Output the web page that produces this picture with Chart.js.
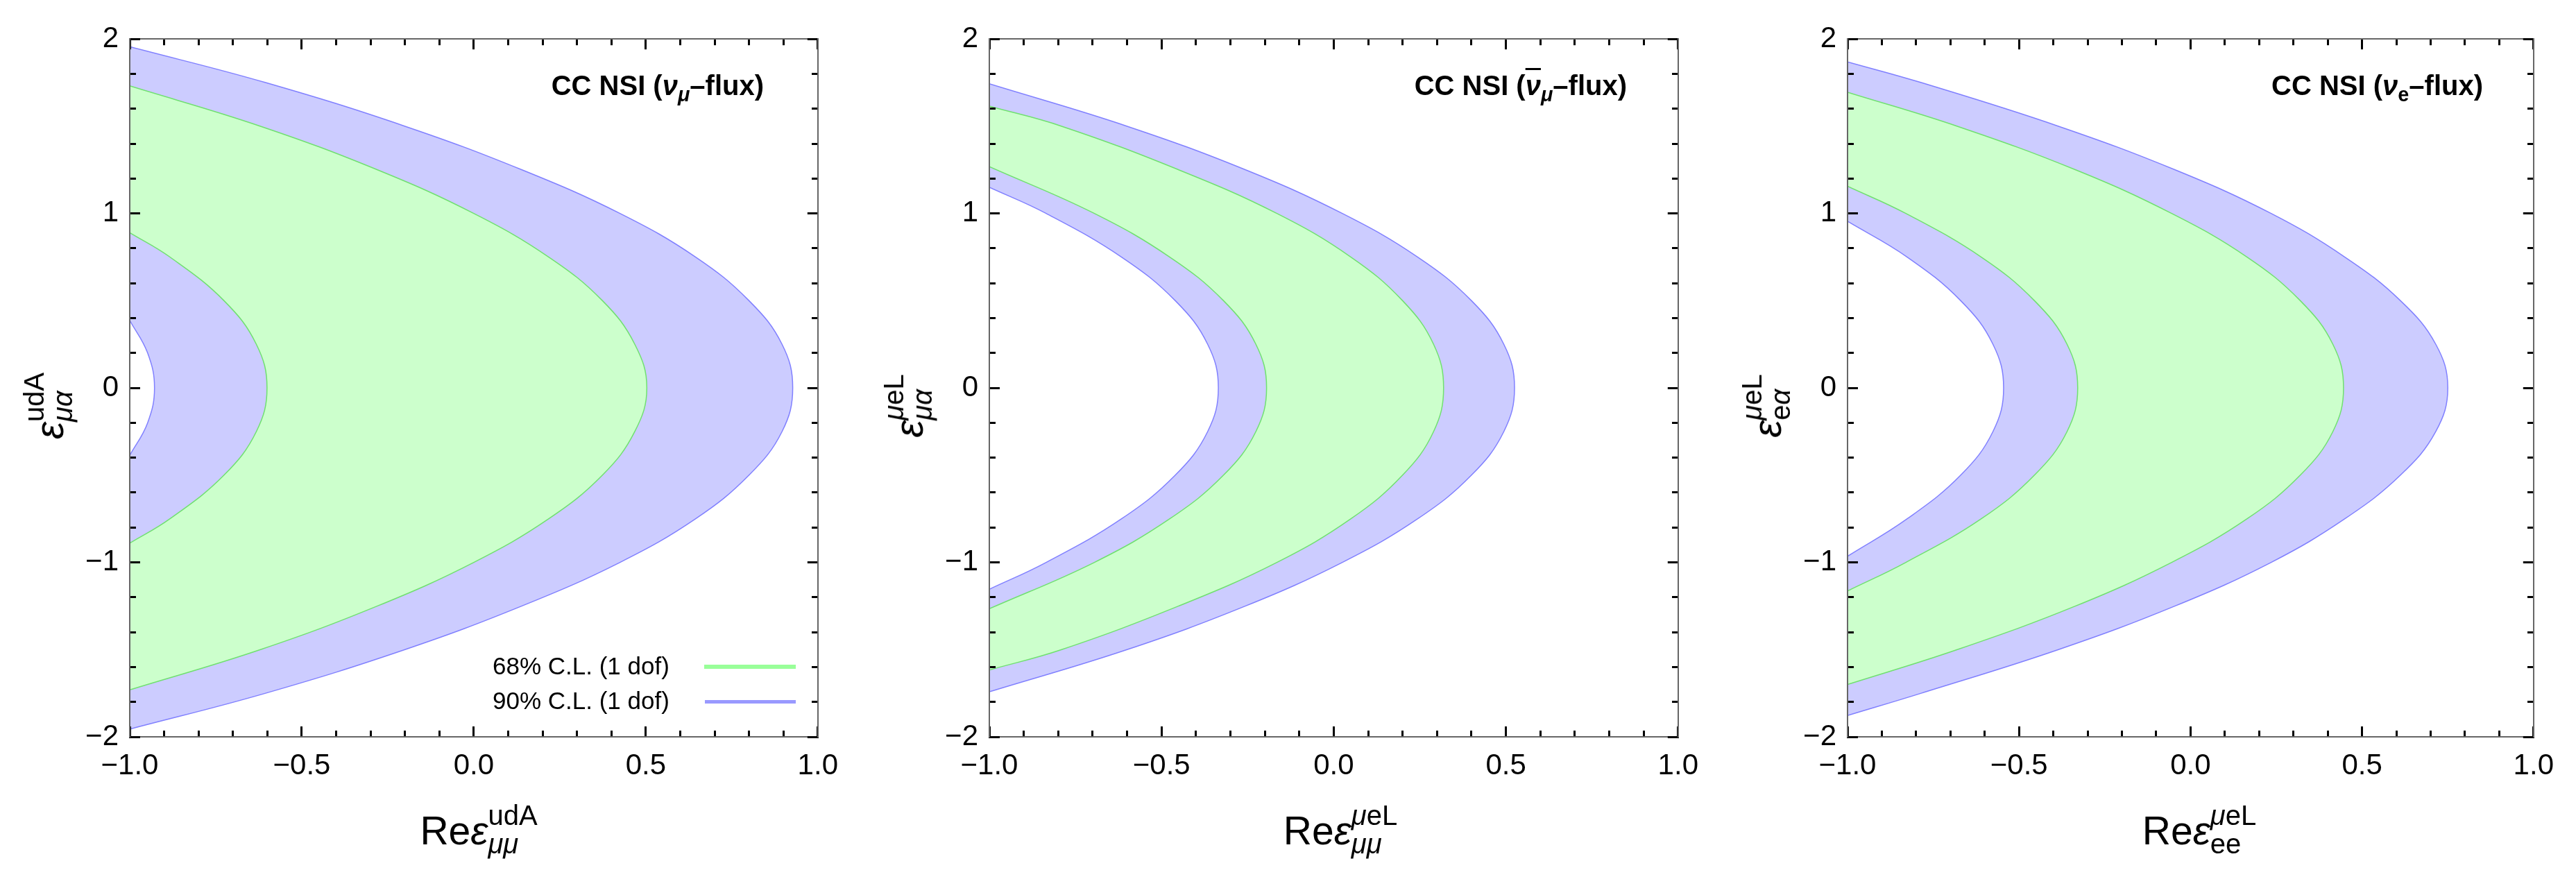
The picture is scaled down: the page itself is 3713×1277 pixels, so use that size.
<!DOCTYPE html>
<html>
<head>
<meta charset="utf-8">
<script src="https://cdn.jsdelivr.net/npm/chart.js@4.4.1/dist/chart.umd.min.js"></script>
<style>
  html, body { margin: 0; padding: 0; background: #fff; }
  body { width: 3713px; height: 1277px; position: relative; overflow: hidden;
         font-family: "Liberation Sans", Arial, sans-serif; color: #000; }
  .panel { position: absolute; top: 0; height: 1277px; }
  .note { position: absolute; top: 103px; font-weight: bold; font-size: 40px; line-height: 40px; white-space: nowrap; }
  .note sub { font-size: 0.72em; vertical-align: -0.32em; line-height: 0; }
  .bar { text-decoration: overline; text-decoration-thickness: 3px; }
  .xt, .yt { position: absolute; font-size: 57px; line-height: 57px; white-space: nowrap; }
  .xt { transform: translateX(-50%); }
  .yt { transform: translate(-50%, -50%) rotate(-90deg); }
  .ss { display: inline-block; font-size: 40px; line-height: 41px; vertical-align: -13px; text-align: left; }
  .ss span { display: block; }
  .leg { position: absolute; font-size: 35px; line-height: 35px; white-space: nowrap; }
  .legline { position: absolute; }
</style>
</head>
<body>

<div class="panel" style="left:0px;width:1240px"><canvas id="c1" width="1240" height="1277"></canvas></div>
<div class="panel" style="left:1240px;width:1240px"><canvas id="c2" width="1240" height="1277"></canvas></div>
<div class="panel" style="left:2475px;width:1238px"><canvas id="c3" width="1238" height="1277"></canvas></div>

<!-- panel notes -->
<div class="note" style="right:2612px">CC NSI (<i>ν</i><sub><i>μ</i></sub>–flux)</div>
<div class="note" style="right:1368px">CC NSI (<i class="bar">ν</i><sub><i>μ</i></sub>–flux)</div>
<div class="note" style="right:134px">CC NSI (<i>ν</i><sub>e</sub>–flux)</div>

<!-- legend, first panel -->
<div class="leg" style="left:710px;top:942px">68% C.L. (1 dof)</div>
<div class="leg" style="left:710px;top:992px">90% C.L. (1 dof)</div>
<div class="legline" style="left:1015px;top:958px;width:132px;height:6px;background:#99ff99"></div>
<div class="legline" style="left:1016px;top:1009px;width:131px;height:5px;background:#9999ff"></div>

<!-- axis titles -->
<div class="xt" style="left:690px;top:1155px">Re<i>ε</i><span class="ss"><span>udA</span><span><i>μμ</i></span></span></div>
<div class="xt" style="left:1932px;top:1155px">Re<i>ε</i><span class="ss"><span><i>μ</i>eL</span><span><i>μμ</i></span></span></div>
<div class="xt" style="left:3170px;top:1155px">Re<i>ε</i><span class="ss"><span><i>μ</i>eL</span><span>ee</span></span></div>

<div class="yt" style="left:70px;top:585px"><i>ε</i><span class="ss"><span>udA</span><span><i>μα</i></span></span></div>
<div class="yt" style="left:1309px;top:585px"><i>ε</i><span class="ss"><span><i>μ</i>eL</span><span><i>μα</i></span></span></div>
<div class="yt" style="left:2546px;top:585px"><i>ε</i><span class="ss"><span><i>μ</i>eL</span><span>e<i>α</i></span></span></div>

<script>
// major tick values (labelled), minor ticks every 0.1 / 0.2
const xMajorTicks = [-1, -0.5, 0, 0.5, 1];
const yMajorTicks = [-2, -1, 0, 1, 2];

// nu_mu flux, udA  -- contour boundaries [Re eps_mumu, eps_mualpha], top to bottom
const muBlueOuter = [[-1,1.956],[-0.605,1.75],[-0.2,1.5],[0.14,1.25],[0.425,1.0],[0.645,0.75],[0.8,0.5],[0.896,0.25],[0.927,0],
  [0.896,-0.25],[0.8,-0.5],[0.645,-0.75],[0.425,-1.0],[0.14,-1.25],[-0.2,-1.5],[-0.605,-1.75],[-1,-1.956]];
const muGreenOuter = [[-1,1.731],[-0.62,1.5],[-0.28,1.25],[0.0,1.0],[0.218,0.75],[0.374,0.5],[0.468,0.25],[0.503,0],
  [0.468,-0.25],[0.374,-0.5],[0.218,-0.75],[0.0,-1.0],[-0.28,-1.25],[-0.62,-1.5],[-1,-1.731]];
const muGreenInner = [[-1,0.89],[-0.883,0.75],[-0.726,0.5],[-0.632,0.25],[-0.601,0],
  [-0.632,-0.25],[-0.726,-0.5],[-0.883,-0.75],[-1,-0.89]];
const muBlueInner = [[-1,0.387],[-0.948,0.2],[-0.928,0],[-0.948,-0.2],[-1,-0.387]];

// anti nu_mu flux, mu e L
const barBlueOuter = [[-1,1.743],[-0.6,1.5],[-0.256,1.25],[0.025,1.0],[0.244,0.75],[0.4,0.5],[0.494,0.25],[0.525,0],
  [0.494,-0.25],[0.4,-0.5],[0.244,-0.75],[0.025,-1.0],[-0.256,-1.25],[-0.6,-1.5],[-1,-1.742]];
const barGreenOuter = [[-1,1.615],[-0.79,1.5],[-0.45,1.25],[-0.165,1.0],[0.05,0.75],[0.2,0.5],[0.29,0.25],[0.319,0],
  [0.29,-0.25],[0.2,-0.5],[0.05,-0.75],[-0.165,-1.0],[-0.45,-1.25],[-0.79,-1.5],[-1,-1.617]];
const barGreenInner = [[-1,1.268],[-0.695,1.0],[-0.476,0.75],[-0.32,0.5],[-0.226,0.25],[-0.195,0],
  [-0.226,-0.25],[-0.32,-0.5],[-0.476,-0.75],[-0.695,-1.0],[-1,-1.266]];
const barBlueInner = [[-1,1.15],[-0.835,1.0],[-0.616,0.75],[-0.46,0.5],[-0.366,0.25],[-0.335,0],
  [-0.366,-0.25],[-0.46,-0.5],[-0.616,-0.75],[-0.835,-1.0],[-1,-1.154]];

// nu_e flux, mu e L
const eBlueOuter = [[-1,1.869],[-0.785,1.75],[-0.385,1.5],[-0.045,1.25],[0.235,1.0],[0.45,0.75],[0.612,0.5],[0.715,0.25],[0.75,0],
  [0.715,-0.25],[0.612,-0.5],[0.45,-0.75],[0.235,-1.0],[-0.045,-1.25],[-0.385,-1.5],[-0.785,-1.75],[-1,-1.878]];
const eGreenOuter = [[-1,1.695],[-0.68,1.5],[-0.335,1.25],[-0.055,1.0],[0.165,0.75],[0.32,0.5],[0.415,0.25],[0.446,0],
  [0.415,-0.25],[0.32,-0.5],[0.165,-0.75],[-0.055,-1.0],[-0.335,-1.25],[-0.68,-1.5],[-1,-1.7]];
const eGreenInner = [[-1,1.156],[-0.83,1.0],[-0.61,0.75],[-0.455,0.5],[-0.36,0.25],[-0.329,0],
  [-0.36,-0.25],[-0.455,-0.5],[-0.61,-0.75],[-0.83,-1.0],[-1,-1.164]];
const eBlueInner = [[-1,0.955],[-0.826,0.75],[-0.67,0.5],[-0.576,0.25],[-0.545,0],
  [-0.576,-0.25],[-0.67,-0.5],[-0.826,-0.75],[-1,-0.965]];

const BLUE_FILL = '#ccccff';
const GREEN_FILL = '#ccffcc';
const BLUE_LINE = '#8080ff';
const GREEN_LINE = '#70e070';

function pts(arr) {
  return arr.map(([x, y]) => ({x, y}));
}

// closed region between an outer and an inner boundary (corners doubled so the spline stays put)
function band(outer, inner) {
  const back = inner.slice().reverse();
  return pts([...outer, outer[outer.length - 1], back[0], ...back]);
}

function isOn(v, list) {
  return list.some(t => Math.abs(t - v) < 1e-6);
}

function fmtX(v) {
  const r = Math.round(v * 10) / 10;
  return (r < 0 ? '\u2212' : '') + Math.abs(r).toFixed(1);
}

function fmtY(v) {
  const r = Math.round(v);
  return (r < 0 ? '\u2212' : '') + Math.abs(r);
}

const tickFont = {family: 'Liberation Sans', size: 42};
const border = {display: true, color: '#666', width: 2, z: 1};

// ticks point into the frame; minor ones are cut short with a dash
function grid(majors, startsAtBorder) {
  return {
    drawOnChartArea: false,
    drawTicks: true,
    tickLength: -15,
    tickWidth: 3,
    tickColor: '#000',
    z: 1,
    tickBorderDash: c => (c.tick && isOn(c.tick.value, majors)) ? [] : (startsAtBorder ? [10, 40] : [10, 6]),
    tickBorderDashOffset: c => (c.tick && isOn(c.tick.value, majors)) ? 0 : (startsAtBorder ? 0 : 10)
  };
}

function makePanel(id, blueOuter, greenOuter, greenInner, blueInner, yWidth, rightWidth) {
  const common = {showLine: true, pointRadius: 0, pointHoverRadius: 0, tension: 0.4};
  new Chart(document.getElementById(id), {
    type: 'scatter',
    data: {
      datasets: [
        {...common, data: band(blueOuter, blueInner), backgroundColor: BLUE_FILL, borderColor: 'rgba(0,0,0,0)', borderWidth: 0, fill: 'shape', order: 4},
        {...common, data: band(greenOuter, greenInner), backgroundColor: GREEN_FILL, borderColor: 'rgba(0,0,0,0)', borderWidth: 0, fill: 'shape', order: 3},
        {...common, data: pts(blueOuter), borderColor: BLUE_LINE, borderWidth: 1.5, fill: false, order: 2},
        {...common, data: pts(blueInner), borderColor: BLUE_LINE, borderWidth: 1.5, fill: false, order: 2},
        {...common, data: pts(greenOuter), borderColor: GREEN_LINE, borderWidth: 1.5, fill: false, order: 1},
        {...common, data: pts(greenInner), borderColor: GREEN_LINE, borderWidth: 1.5, fill: false, order: 1}
      ]
    },
    options: {
      responsive: false,
      animation: false,
      events: [],
      layout: {padding: 0},
      plugins: {legend: {display: false}, tooltip: {enabled: false}},
      scales: {
        x: {
          type: 'linear', position: 'bottom', min: -1, max: 1,
          ticks: {stepSize: 0.1, maxTicksLimit: 100, autoSkip: false, maxRotation: 0, minRotation: 0,
                  padding: 32, color: '#000', font: tickFont,
                  callback: v => isOn(v, xMajorTicks) ? fmtX(v) : ''},
          grid: grid(xMajorTicks, true),
          border: border,
          afterFit: s => { s.height = 215; }
        },
        xTop: {
          type: 'linear', position: 'top', min: -1, max: 1,
          ticks: {stepSize: 0.1, maxTicksLimit: 100, autoSkip: false, display: false},
          grid: grid(xMajorTicks, false),
          border: border,
          afterFit: s => { s.height = 53; }
        },
        y: {
          type: 'linear', position: 'left', min: -2, max: 2,
          ticks: {stepSize: 0.2, maxTicksLimit: 100, autoSkip: false, padding: 31, color: '#000', font: tickFont,
                  callback: v => isOn(v, yMajorTicks) ? fmtY(v) : ''},
          grid: grid(yMajorTicks, false),
          border: border,
          afterFit: s => { s.width = yWidth; }
        },
        yRight: {
          type: 'linear', position: 'right', min: -2, max: 2,
          ticks: {stepSize: 0.2, maxTicksLimit: 100, autoSkip: false, display: false},
          grid: grid(yMajorTicks, true),
          border: border,
          afterFit: s => { s.width = rightWidth; }
        }
      }
    }
  });
}

makePanel('c1', muBlueOuter, muGreenOuter, muGreenInner, muBlueInner, 187, 46);
makePanel('c2', barBlueOuter, barGreenOuter, barGreenInner, barBlueInner, 186, 42);
makePanel('c3', eBlueOuter, eGreenOuter, eGreenInner, eBlueInner, 188, 36);
</script>
</body>
</html>
